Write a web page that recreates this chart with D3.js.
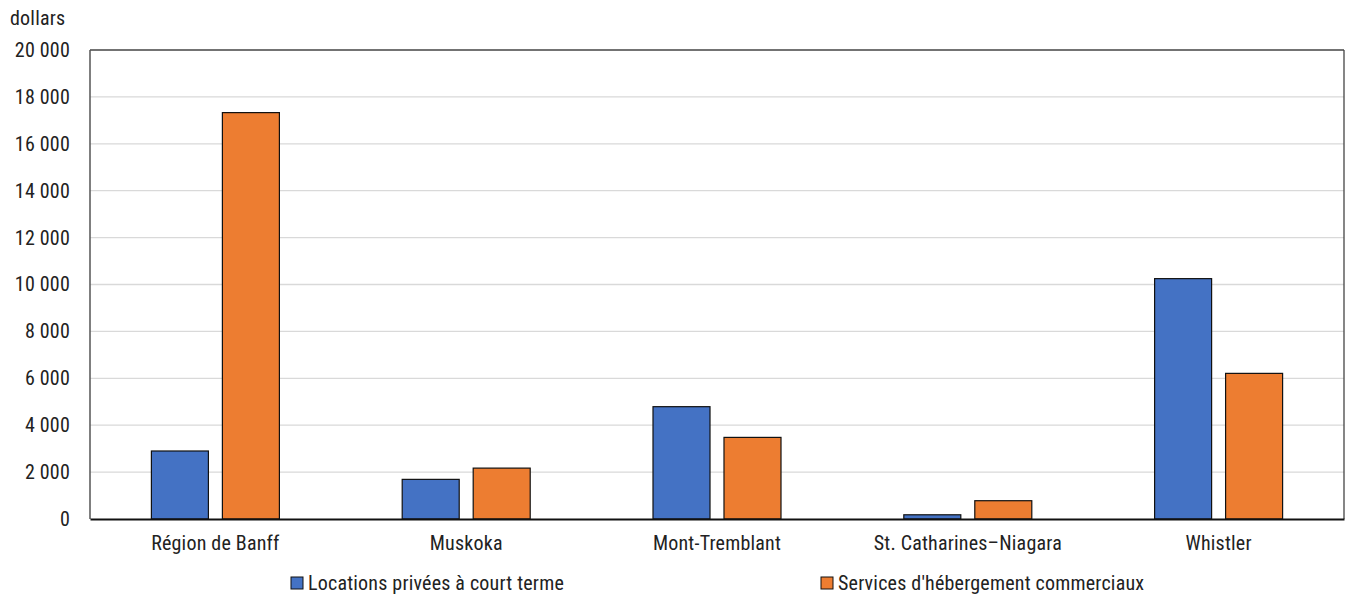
<!DOCTYPE html>
<html><head><meta charset="utf-8">
<script src="https://cdn.jsdelivr.net/npm/d3@7"></script>
<style>
body{margin:0;background:#fff;}
text{font-family:"Roboto Condensed","Liberation Sans Narrow","Roboto",sans-serif;fill:#222;letter-spacing:0.2px;}
</style></head>
<body><svg id="c" width="1346" height="594"></svg>
<script>
const categories = ["Région de Banff","Muskoka","Mont-Tremblant","St. Catharines–Niagara","Whistler"];
const seriesNames = ["Locations privées à court terme","Services d'hébergement commerciaux"];
const locations = [2900, 1690, 4790, 180, 10250];
const hebergement = [17330, 2170, 3480, 780, 6210];
const yTicks = [0,2000,4000,6000,8000,10000,12000,14000,16000,18000,20000];
const colors = ["#4472c4","#ed7d31"];

const svg = d3.select("#c");
const m = {l:90, r:1344, t:50, b:519};
const x = d3.scaleBand().domain(categories).range([m.l, m.r]);
const x1 = d3.scaleBand().domain([0,1]).range([0,128]).paddingInner(0.197);
const y = d3.scaleLinear().domain([0,20000]).range([m.b, m.t]);
const fmt = v => d3.format(",")(v).replace(/,/g," ");

// grid
svg.append("g").selectAll("line").data(yTicks.slice(1,-1)).join("line")
  .attr("x1",m.l).attr("x2",m.r).attr("y1",d=>y(d)).attr("y2",d=>y(d))
  .attr("stroke","#d9d9d9").attr("stroke-width",1.3);

// y axis labels
const ya = svg.append("g").attr("transform",`translate(${m.l},0)`)
  .call(d3.axisLeft(y).tickValues(yTicks).tickFormat(fmt).tickSize(0).tickPadding(20));
ya.select(".domain").remove();
ya.selectAll("text").style("font-size","20px").attr("fill","#222");

// frame
svg.append("line").attr("x1",m.l).attr("x2",m.r).attr("y1",m.t).attr("y2",m.t).attr("stroke","#444").attr("stroke-width",1.3);
svg.append("line").attr("x1",m.r).attr("x2",m.r).attr("y1",m.t).attr("y2",m.b).attr("stroke","#444").attr("stroke-width",1.3);
svg.append("line").attr("x1",m.l).attr("x2",m.l).attr("y1",m.t).attr("y2",m.b).attr("stroke","#555").attr("stroke-width",1.5);

// bars
const data = categories.map((c,i)=>({c, v:[locations[i], hebergement[i]]}));
const g = svg.append("g").selectAll("g").data(data).join("g")
  .attr("transform",d=>`translate(${x(d.c)+x.bandwidth()/2-64},0)`);
g.selectAll("rect").data(d=>d.v.map((v,k)=>({v,k}))).join("rect")
  .attr("x",d=>x1(d.k)).attr("width",x1.bandwidth())
  .attr("y",d=>y(d.v)).attr("height",d=>y(0)-y(d.v))
  .attr("fill",d=>colors[d.k]).attr("stroke","#111").attr("stroke-width",1.2);

// x axis
const xa = svg.append("g").attr("transform",`translate(0,${m.b})`)
  .call(d3.axisBottom(x).tickSize(0).tickPadding(17));
xa.select(".domain").attr("stroke","#111").attr("stroke-width",2);
xa.selectAll("text").style("font-size","20px").attr("fill","#222");

// unit label
svg.append("text").attr("x",10).attr("y",25).style("font-size","20px").text("dollars");

// legend
const lx = [291, 821];
seriesNames.forEach((s,i)=>{
  svg.append("rect").attr("x",lx[i]).attr("y",577).attr("width",12).attr("height",12)
    .attr("fill",colors[i]).attr("stroke","#111").attr("stroke-width",1);
  svg.append("text").attr("x",lx[i]+17).attr("y",590).style("font-size","20px").text(s);
});
</script></body></html>
